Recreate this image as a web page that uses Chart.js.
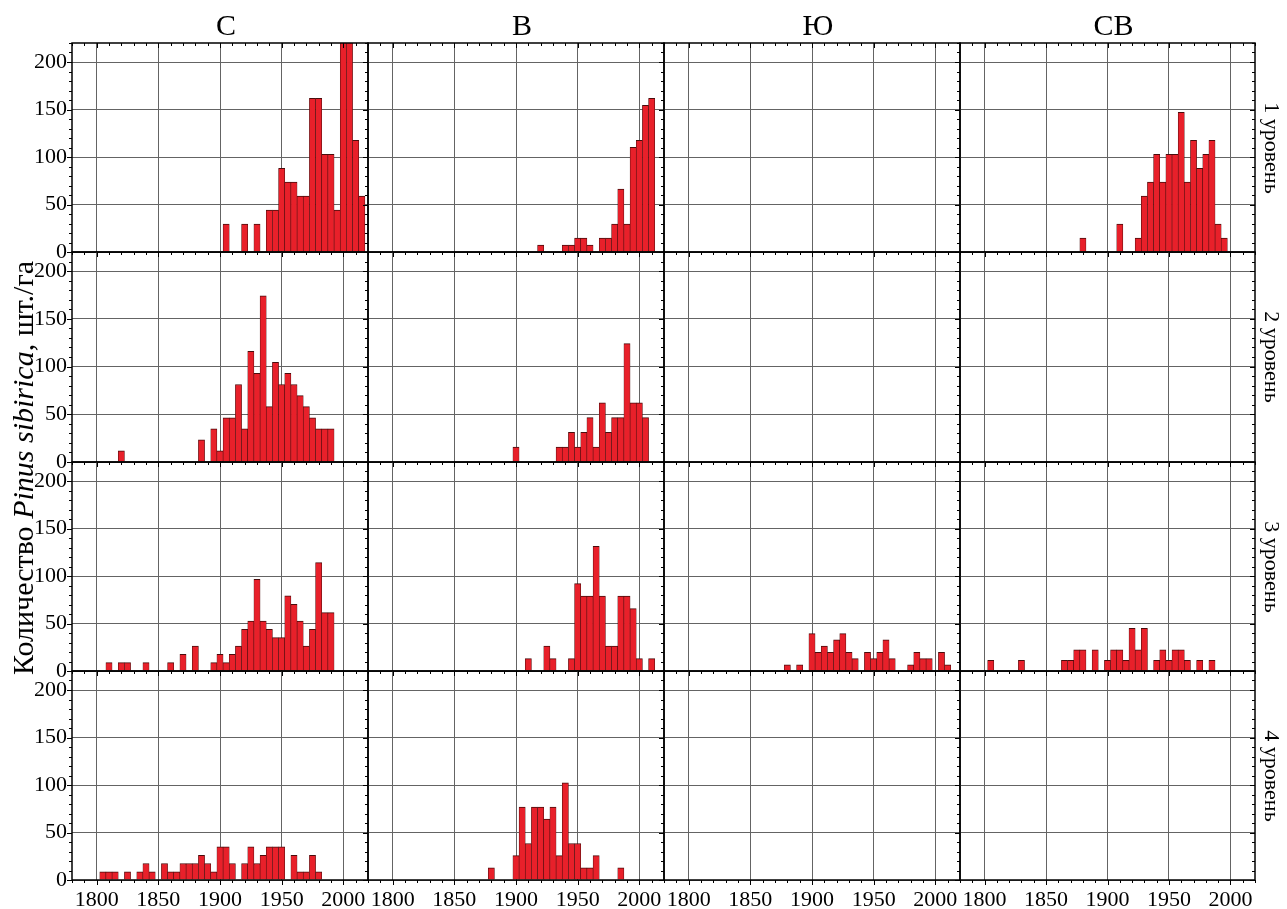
<!DOCTYPE html>
<html>
<head>
<meta charset="utf-8">
<script src="https://cdn.jsdelivr.net/npm/chart.js@4.4.0/dist/chart.umd.min.js"></script>
<style>
  body { margin: 0; background: #fff; }
  #wrap { position: relative; width: 1287px; height: 909px; overflow: hidden;
          font-family: "Liberation Serif", "Times New Roman", serif; color: #000; }
  #wrap canvas { position: absolute; }
  .col-title { position: absolute; top: 10px; width: 120px; text-align: center;
               font-size: 30px; line-height: 30px; }
  .row-title { position: absolute; width: 200px; text-align: center; font-size: 22px;
               line-height: 26px; transform: rotate(90deg); white-space: nowrap; }
  .y-title { position: absolute; width: 700px; text-align: center; font-size: 30px;
             line-height: 34px; transform: rotate(-90deg); white-space: nowrap; }
</style>
</head>
<body>
<div id="wrap"></div>
<script>
// labels and ticks
const columnNames = ['С', 'В', 'Ю', 'СВ'];
const rowNames = ['1 уровень', '2 уровень', '3 уровень', '4 уровень'];
const yTitleStart = 'Количество ';
const yTitleSpecies = 'Pinus sibirica';
const yTitleEnd = ', шт./га';
const xTicks = [1800, 1850, 1900, 1950, 2000];
const yTicks = [0, 50, 100, 150, 200];

// level 1
const s1Years = [1905, 1920, 1930, 1940, 1945, 1950, 1955, 1960, 1965, 1970, 1975, 1980, 1985, 1990, 1995, 2000, 2005, 2010, 2015];
const s1Values = [29.4, 29.4, 29.4, 44.1, 44.1, 88.2, 73.5, 73.5, 58.8, 58.8, 161.7, 161.7, 102.9, 102.9, 44.1, 235, 235, 117.6, 58.8];
const v1Years = [1920, 1940, 1945, 1950, 1955, 1960, 1970, 1975, 1980, 1985, 1990, 1995, 2000, 2005, 2010];
const v1Values = [7.4, 7.4, 7.4, 14.7, 14.7, 7.4, 14.7, 14.7, 29.4, 66.2, 29.4, 110.3, 117.6, 154.4, 161.7];
const sv1Years = [1880, 1910, 1925, 1930, 1935, 1940, 1945, 1950, 1955, 1960, 1965, 1970, 1975, 1980, 1985, 1990, 1995];
const sv1Values = [14.7, 29.4, 14.7, 58.8, 73.5, 102.9, 73.5, 102.9, 102.9, 147, 73.5, 117.6, 88.2, 102.9, 117.6, 29.4, 14.7];

// level 2
const s2Years = [1820, 1885, 1895, 1900, 1905, 1910, 1915, 1920, 1925, 1930, 1935, 1940, 1945, 1950, 1955, 1960, 1965, 1970, 1975, 1980, 1985, 1990];
const s2Values = [11.6, 23.2, 34.8, 11.6, 46.4, 46.4, 81.2, 34.8, 116, 92.8, 174, 58, 104.4, 81.2, 92.8, 81.2, 69.6, 58, 46.4, 34.8, 34.8, 34.8];
const v2Years = [1900, 1935, 1940, 1945, 1950, 1955, 1960, 1965, 1970, 1975, 1980, 1985, 1990, 1995, 2000, 2005];
const v2Values = [15.5, 15.5, 15.5, 31, 15.5, 31, 46.5, 15.5, 62, 31, 46.5, 46.5, 124, 62, 62, 46.5];

// level 3
const s3Years = [1810, 1820, 1825, 1840, 1860, 1870, 1880, 1895, 1900, 1905, 1910, 1915, 1920, 1925, 1930, 1935, 1940, 1945, 1950, 1955, 1960, 1965, 1970, 1975, 1980, 1985, 1990];
const s3Values = [8.8, 8.8, 8.8, 8.8, 8.8, 17.5, 26.3, 8.8, 17.5, 8.8, 17.5, 26.3, 43.9, 52.6, 96.5, 52.6, 43.9, 35.1, 35.1, 79, 70.2, 52.6, 26.3, 43.9, 114, 61.4, 61.4];
const v3Years = [1910, 1925, 1930, 1945, 1950, 1955, 1960, 1965, 1970, 1975, 1980, 1985, 1990, 1995, 2000, 2010];
const v3Values = [13.1, 26.3, 13.1, 13.1, 91.9, 78.8, 78.8, 131.3, 78.8, 26.3, 26.3, 78.8, 78.8, 65.6, 13.1, 13.1];
const yu3Years = [1880, 1890, 1900, 1905, 1910, 1915, 1920, 1925, 1930, 1935, 1945, 1950, 1955, 1960, 1965, 1980, 1985, 1990, 1995, 2005, 2010];
const yu3Values = [6.6, 6.6, 39.3, 19.7, 26.2, 19.7, 32.8, 39.3, 19.7, 13.1, 19.7, 13.1, 19.7, 32.8, 13.1, 6.6, 19.7, 13.1, 13.1, 19.7, 6.6];
const sv3Years = [1805, 1830, 1865, 1870, 1875, 1880, 1890, 1900, 1905, 1910, 1915, 1920, 1925, 1930, 1940, 1945, 1950, 1955, 1960, 1965, 1975, 1985];
const sv3Values = [11.2, 11.2, 11.2, 11.2, 22.4, 22.4, 22.4, 11.2, 22.4, 22.4, 11.2, 44.9, 22.4, 44.9, 11.2, 22.4, 11.2, 22.4, 22.4, 11.2, 11.2, 11.2];

// level 4
const s4Years = [1805, 1810, 1815, 1825, 1835, 1840, 1845, 1855, 1860, 1865, 1870, 1875, 1880, 1885, 1890, 1895, 1900, 1905, 1910, 1920, 1925, 1930, 1935, 1940, 1945, 1950, 1960, 1965, 1970, 1975, 1980];
const s4Values = [8.7, 8.7, 8.7, 8.7, 8.7, 17.4, 8.7, 17.4, 8.7, 8.7, 17.4, 17.4, 17.4, 26.1, 17.4, 8.7, 34.8, 34.8, 17.4, 17.4, 34.8, 17.4, 26.1, 34.8, 34.8, 34.8, 26.1, 8.7, 8.7, 26.1, 8.7];
const v4Years = [1880, 1900, 1905, 1910, 1915, 1920, 1925, 1930, 1935, 1940, 1945, 1950, 1955, 1960, 1965, 1985];
const v4Values = [12.8, 25.6, 76.8, 38.4, 76.8, 76.8, 64, 76.8, 25.6, 102.4, 38.4, 38.4, 12.8, 12.8, 25.6, 12.8];

// rows x columns, null = empty panel
const panels = [
  [[s1Years, s1Values], [v1Years, v1Values], null, [sv1Years, sv1Values]],
  [[s2Years, s2Values], [v2Years, v2Values], null, null],
  [[s3Years, s3Values], [v3Years, v3Values], [yu3Years, yu3Values], [sv3Years, sv3Values]],
  [[s4Years, s4Values], [v4Years, v4Values], null, null],
];

const colEdges = [72, 368, 664, 960, 1255];
const rowEdges = [43, 252, 462, 671, 880];
const fontFamily = '"Liberation Serif", "Times New Roman", serif';
const wrap = document.getElementById('wrap');

// frame plus major/minor tick marks on all four sides
const frameTicks = {
  id: 'frameTicks',
  afterDraw(chart) {
    const { ctx, chartArea: a, scales: { x, y } } = chart;
    ctx.save();
    ctx.strokeStyle = '#000';
    ctx.lineWidth = 1;
    ctx.beginPath();
    for (let v = x.min; v <= x.max; v += 10) {
      const px = Math.round(x.getPixelForValue(v)) + 0.5;
      const len = v % 50 === 0 ? 5 : 3;
      ctx.moveTo(px, a.bottom); ctx.lineTo(px, a.bottom + len);
      ctx.moveTo(px, a.top); ctx.lineTo(px, a.top + len);
    }
    for (let v = y.min; v <= y.max; v += 10) {
      const py = Math.round(y.getPixelForValue(v)) + 0.5;
      const len = v % 50 === 0 ? 5 : 3;
      ctx.moveTo(a.left, py); ctx.lineTo(a.left - len, py);
      ctx.moveTo(a.right, py); ctx.lineTo(a.right - len, py);
    }
    ctx.stroke();
    ctx.lineWidth = 1.5;
    ctx.strokeRect(a.left, a.top, a.right - a.left, a.bottom - a.top);
    ctx.restore();
  }
};

function makePanel(r, c) {
  const padL = c === 0 ? 72 : 20;
  const padR = 20;
  const padT = 24;
  const padB = r === 3 ? 29 : 24;
  const w = colEdges[c + 1] - colEdges[c];
  const h = rowEdges[r + 1] - rowEdges[r];

  const canvas = document.createElement('canvas');
  canvas.width = w + padL + padR;
  canvas.height = h + padT + padB;
  canvas.style.left = (colEdges[c] - padL) + 'px';
  canvas.style.top = (rowEdges[r] - padT) + 'px';
  wrap.appendChild(canvas);

  const cell = panels[r][c];
  const points = cell ? cell[0].map((yr, i) => ({ x: yr, y: cell[1][i] })) : [];

  new Chart(canvas.getContext('2d'), {
    type: 'bar',
    data: {
      datasets: [{
        data: points,
        backgroundColor: '#e8202a',
        borderColor: '#4a0c0c',
        borderWidth: { top: 1, left: 0.6, right: 0.6, bottom: 0 },
        barPercentage: 1,
        categoryPercentage: 1,
      }]
    },
    options: {
      responsive: false,
      animation: false,
      layout: { padding: { top: padT, right: padR, left: 0, bottom: 0 } },
      plugins: { legend: { display: false }, tooltip: { enabled: false } },
      scales: {
        x: {
          type: 'linear',
          min: 1780,
          max: 2020,
          offset: false,
          afterBuildTicks: s => { s.ticks = xTicks.map(v => ({ value: v })); },
          afterFit: s => { s.height = padB; },
          grid: { color: '#646464', lineWidth: 1, drawTicks: false, offset: false },
          border: { display: false },
          ticks: {
            display: r === 3,
            padding: 7,
            color: '#000',
            maxRotation: 0,
            autoSkip: false,
            font: { family: fontFamily, size: 22 },
            callback: v => String(v),
          },
        },
        y: {
          min: 0,
          max: 220,
          afterBuildTicks: s => { s.ticks = yTicks.map(v => ({ value: v })); },
          afterFit: s => { s.width = padL; },
          grid: { color: '#646464', lineWidth: 1, drawTicks: false },
          border: { display: false },
          ticks: {
            display: c === 0,
            padding: 5,
            color: '#000',
            font: { family: fontFamily, size: 22 },
            callback: v => String(v),
          },
        },
      },
    },
    plugins: [frameTicks],
  });
}

for (let r = 0; r < 4; r++) {
  for (let c = 0; c < 4; c++) makePanel(r, c);
}

// column and row captions
columnNames.forEach((name, c) => {
  const d = document.createElement('div');
  d.className = 'col-title';
  d.textContent = name;
  d.style.left = ((colEdges[c] + colEdges[c + 1]) / 2 + 6 - 60) + 'px';
  wrap.appendChild(d);
});
rowNames.forEach((name, r) => {
  const d = document.createElement('div');
  d.className = 'row-title';
  d.textContent = name;
  d.style.left = (1272 - 100) + 'px';
  d.style.top = ((rowEdges[r] + rowEdges[r + 1]) / 2 - 13) + 'px';
  wrap.appendChild(d);
});
const yt = document.createElement('div');
yt.className = 'y-title';
yt.appendChild(document.createTextNode(yTitleStart));
const sp = document.createElement('i');
sp.textContent = yTitleSpecies;
yt.appendChild(sp);
yt.appendChild(document.createTextNode(yTitleEnd));
yt.style.left = (23 - 350) + 'px';
yt.style.top = ((rowEdges[0] + rowEdges[4]) / 2 + 6 - 17) + 'px';
wrap.appendChild(yt);
</script>
</body>
</html>
